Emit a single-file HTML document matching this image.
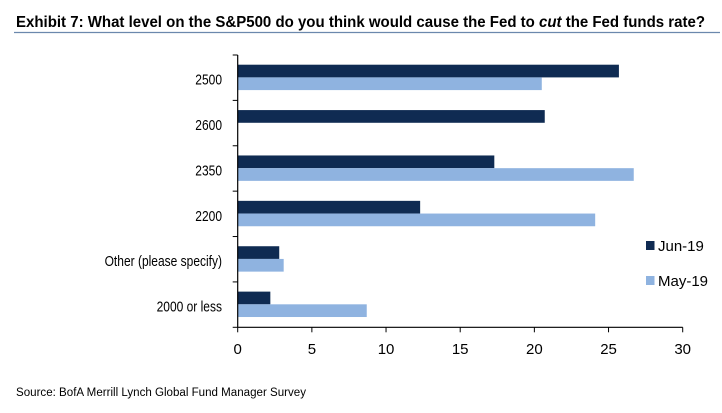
<!DOCTYPE html>
<html><head><meta charset="utf-8"><style>
html,body{margin:0;padding:0;background:#fff;width:722px;height:413px;overflow:hidden}
svg{display:block;font-family:"Liberation Sans",Arial,sans-serif}
</style></head><body>
<svg id="chart" width="722" height="413" viewBox="0 0 722 413">
<text x="16" y="27" font-size="15.5" font-weight="bold" fill="#000" textLength="689" lengthAdjust="spacingAndGlyphs">Exhibit 7: What level on the S&amp;P500 do you think would cause the Fed to <tspan font-style="italic">cut</tspan> the Fed funds rate?</text>
<line x1="14" y1="32.5" x2="720" y2="32.5" stroke="#6b88ad" stroke-width="1.2"/>
<g id="plot"></g>
<g>
<rect x="646" y="241" width="8.5" height="9" fill="#0f2b52"/>
<text x="658" y="251" font-size="15" fill="#000">Jun-19</text>
<rect x="646" y="276" width="8.5" height="9" fill="#8fb3e0"/>
<text x="658" y="286" font-size="15" fill="#000">May-19</text>
</g>
<text x="16" y="396" font-size="11.5" fill="#000" textLength="290" lengthAdjust="spacingAndGlyphs">Source: BofA Merrill Lynch Global Fund Manager Survey</text>
</svg>
<script>
const categories = ["2500","2600","2350","2200","Other (please specify)","2000 or less"];
const jun19 = [25.7,20.7,17.3,12.3,2.8,2.2];
const may19 = [20.5,0,26.7,24.1,3.1,8.7];
const xTicks = [0,5,10,15,20,25,30];

const NS="http://www.w3.org/2000/svg";
const plot=document.getElementById('plot');
const x0=237.7,x1=682.7,yTop=55,yBot=327.3,xMax=30;
const band=(yBot-yTop)/categories.length;
const xs=v=>x0+(v/xMax)*(x1-x0);
function mk(tag,attrs){const e=document.createElementNS(NS,tag);for(const k in attrs)e.setAttribute(k,attrs[k]);plot.appendChild(e);return e;}
categories.forEach((c,i)=>{
  const bt=yTop+i*band;
  const b1=mk('rect',{x:x0,y:bt+9.7,width:xs(jun19[i])-x0,height:12.7,fill:'#0f2b52'});
  
  
  if(may19[i]>0){
    const b2=mk('rect',{x:x0,y:bt+22.4,width:xs(may19[i])-x0,height:12.7,fill:'#8fb3e0'});
    
    
  }
  const t=mk('text',{x:222,y:bt+band/2+7,'text-anchor':'end','font-size':15,fill:'#000'});
  t.textContent=c;
  
  
  const w=t.getComputedTextLength();
  t.setAttribute('textLength',(w*0.8).toFixed(1));
  t.setAttribute('lengthAdjust','spacingAndGlyphs');
  const tk=mk('line',{x1:x0-5,x2:x0,y1:bt,y2:bt,stroke:'#000','stroke-width':1});
  
  
});
const yt=mk('line',{x1:x0-5,x2:x0,y1:yBot,y2:yBot,stroke:'#000','stroke-width':1});


const ya=mk('line',{x1:x0,x2:x0,y1:yTop,y2:yBot,stroke:'#000','stroke-width':1.2});


const xa=mk('line',{x1:x0,x2:x1,y1:yBot,y2:yBot,stroke:'#000','stroke-width':1.2});


xTicks.forEach(v=>{
  const l=mk('line',{x1:xs(v),x2:xs(v),y1:yBot,y2:yBot+5,stroke:'#000','stroke-width':1});
  
  
  const t=mk('text',{x:xs(v),y:354,'text-anchor':'middle','font-size':15,fill:'#000'});
  t.textContent=v;
  
  
});
</script>
</body></html>
